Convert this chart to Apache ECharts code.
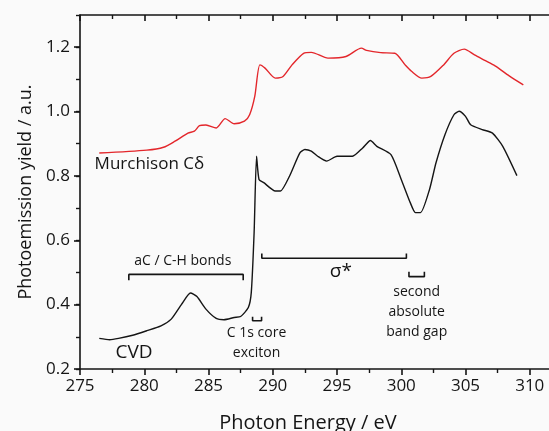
<!DOCTYPE html>
<html>
<head>
<meta charset="utf-8">
<script src="https://cdn.jsdelivr.net/npm/echarts@6/dist/echarts.min.js"></script>
<style>
  html, body { margin: 0; padding: 0; background: #fafafa; }
  #chart { width: 549px; height: 431px; }
</style>
</head>
<body>
<div id="chart"></div>
<script>
// Murchison C-delta spectrum (red)
var murchisonEnergy = [276.5, 280.2, 281.5, 282.4, 283.4, 283.9, 284.3, 284.8, 285.6, 286.3, 287.0, 287.8, 288.2, 288.6, 289.0, 289.4, 290.2, 290.8, 291.5, 292.4, 293.0, 294.3, 295.7, 296.9, 297.3, 298.4, 299.5, 300.3, 300.8, 301.6, 302.3, 303.3, 304.1, 304.9, 305.7, 306.5, 307.3, 308.4, 309.5];
var murchisonYield = [0.871, 0.880, 0.889, 0.908, 0.933, 0.939, 0.956, 0.958, 0.949, 0.978, 0.962, 0.970, 0.990, 1.047, 1.145, 1.135, 1.104, 1.109, 1.145, 1.181, 1.184, 1.166, 1.171, 1.197, 1.190, 1.183, 1.181, 1.145, 1.125, 1.104, 1.109, 1.145, 1.181, 1.194, 1.176, 1.159, 1.142, 1.111, 1.083];

// CVD diamond spectrum (black)
var cvdEnergy = [276.5, 277.3, 278.0, 279.1, 280.2, 281.3, 282.1, 282.9, 283.6, 284.1, 284.8, 285.6, 286.2, 287.0, 287.5, 288.1, 288.33, 288.55, 288.74, 288.93, 289.3, 290.2, 290.6, 291.3, 292.1, 292.5, 293.0, 293.5, 294.2, 295.0, 296.2, 297.0, 297.6, 298.1, 299.2, 300.0, 300.7, 301.1, 301.5, 302.2, 302.7, 303.4, 304.1, 304.5, 305.0, 305.4, 306.3, 307.1, 307.9, 309.0];
var cvdYield = [0.295, 0.291, 0.295, 0.305, 0.319, 0.334, 0.355, 0.401, 0.436, 0.425, 0.386, 0.357, 0.353, 0.360, 0.363, 0.391, 0.438, 0.624, 0.861, 0.789, 0.779, 0.753, 0.753, 0.799, 0.871, 0.882, 0.877, 0.861, 0.846, 0.861, 0.861, 0.887, 0.910, 0.892, 0.866, 0.789, 0.717, 0.686, 0.686, 0.758, 0.840, 0.928, 0.990, 1.001, 0.985, 0.959, 0.944, 0.933, 0.892, 0.801];

// brackets: [x start, x end, y of bar, y of end tips]
var brackets = [
  [278.8, 287.7, 0.494, 0.476],
  [289.15, 300.4, 0.544, 0.559],
  [288.43, 289.13, 0.350, 0.362],
  [300.6, 301.8, 0.487, 0.502]
];

// annotation texts with their centre in data units
var noteText = ['Murchison C\u03b4', 'CVD', 'aC / C-H bonds', '\u03c3*', 'C 1s core\nexciton', 'second\nabsolute\nband gap'];
var noteX = [280.4, 279.2, 283.0, 295.3, 288.74, 301.2];
var noteY = [0.835, 0.252, 0.536, 0.504, 0.282, 0.378];
var noteSize = [17, 19, 14, 19, 14, 14];

var FONT = 'Open Sans';

function zip(a, b) {
  return a.map(function (v, i) { return [v, b[i]]; });
}

var myChart = echarts.init(document.getElementById('chart'), null, { renderer: 'canvas' });

var series = [
  {
    type: 'line', name: 'Murchison',
    data: zip(murchisonEnergy, murchisonYield),
    showSymbol: false, smooth: 0.25,
    lineStyle: { color: '#e3262b', width: 1.4 },
    z: 3
  },
  {
    type: 'line', name: 'CVD',
    data: zip(cvdEnergy, cvdYield),
    showSymbol: false, smooth: 0.2,
    lineStyle: { color: '#151515', width: 1.4 },
    z: 3
  }
];

brackets.forEach(function (b) {
  series.push({
    type: 'line',
    data: [[b[0], b[3]], [b[0], b[2]], [b[1], b[2]], [b[1], b[3]]],
    showSymbol: false,
    lineStyle: { color: '#151515', width: 1.6 },
    silent: true
  });
});

series.push({
  type: 'scatter',
  symbolSize: 0,
  silent: true,
  itemStyle: { opacity: 1 },
  data: noteText.map(function (t, i) {
    return {
      name: t,
      value: [noteX[i], noteY[i]],
      label: { fontSize: noteSize[i], lineHeight: noteSize[i] === 14 ? 20 : noteSize[i] + 4 }
    };
  }),
  label: {
    show: true,
    position: 'inside',
    formatter: '{b}',
    color: '#151515',
    opacity: 1,
    textBorderWidth: 0,
    fontFamily: FONT,
    align: 'center',
    verticalAlign: 'middle'
  }
});

myChart.setOption({
  backgroundColor: '#fafafa',
  animation: false,
  grid: { left: 80, top: 15, width: 514, height: 354, outerBoundsMode: 'none', containLabel: false },
  xAxis: [
    {
      type: 'value', position: 'bottom',
      min: 275, max: 315, interval: 5,
      name: 'Photon Energy / eV', nameLocation: 'middle', nameGap: 44,
      nameTextStyle: { fontFamily: FONT, fontSize: 20, color: '#151515', padding: [0, 58, 0, 0] },
      axisLine: { show: true, onZero: false, lineStyle: { color: '#151515', width: 1.6 } },
      axisTick: { show: true, inside: false, length: 6, lineStyle: { width: 1.6 } },
      minorTick: { show: true, splitNumber: 2, length: 4, lineStyle: { color: '#151515', width: 1.4 } },
      axisLabel: { margin: 9, fontFamily: FONT, fontSize: 17, color: '#151515' },
      splitLine: { show: false }
    },
    {
      type: 'value', position: 'top',
      min: 275, max: 315, interval: 5,
      axisLine: { show: true, onZero: false, lineStyle: { color: '#151515', width: 1.6 } },
      axisTick: { show: true, inside: true, length: 6, lineStyle: { width: 1.6 } },
      minorTick: { show: true, splitNumber: 2, length: 4, lineStyle: { color: '#151515', width: 1.4 } },
      axisLabel: { show: false },
      splitLine: { show: false }
    }
  ],
  yAxis: [
    {
      type: 'value', position: 'left',
      min: 0.2, max: 1.3, interval: 0.2,
      name: 'Photoemission yield / a.u.', nameLocation: 'middle', nameGap: 45,
      nameTextStyle: { fontFamily: FONT, fontSize: 18, color: '#151515' },
      axisLine: { show: true, onZero: false, lineStyle: { color: '#151515', width: 1.6 } },
      axisTick: { show: true, inside: false, length: 6, lineStyle: { width: 1.6 } },
      axisLabel: {
        margin: 10, fontFamily: FONT, fontSize: 17, color: '#151515',
        showMaxLabel: false,
        formatter: function (v) { return v.toFixed(1); }
      },
      splitLine: { show: false }
    },
    {
      type: 'value', position: 'left',
      min: 0.2, max: 1.3, interval: 0.1,
      axisLine: { show: false },
      axisTick: { show: true, inside: false, length: 4, lineStyle: { color: '#151515', width: 1.4 } },
      axisLabel: { show: false },
      splitLine: { show: false }
    }
  ],
  series: series
});
</script>
</body>
</html>
